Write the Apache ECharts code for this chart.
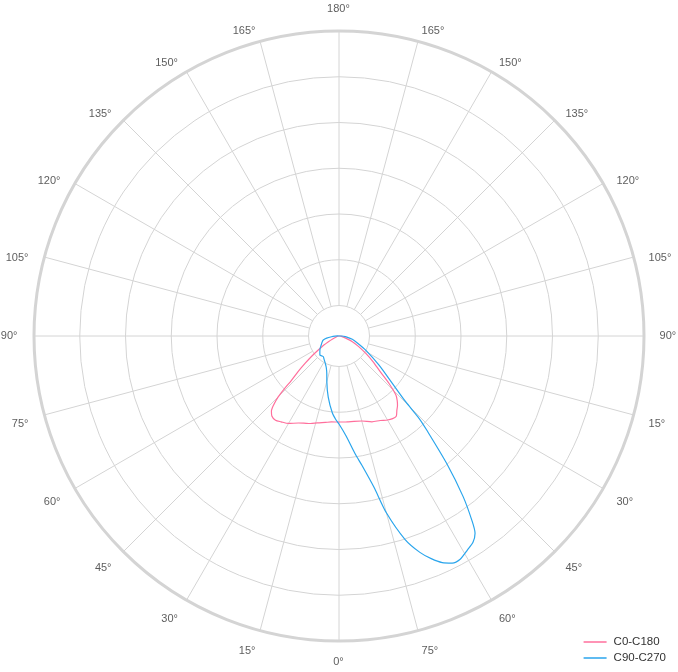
<!DOCTYPE html>
<html>
<head>
<meta charset="utf-8">
<title>Light distribution</title>
<script src="https://cdn.jsdelivr.net/npm/echarts@6/dist/echarts.min.js"></script>
<style>
html, body { margin: 0; padding: 0; background: #fff; }
#chart { width: 678px; height: 672px; }
</style>
</head>
<body>
<div id="chart"></div>
<script>
// tick labels round the dial, one per 15 deg of angle value (0..345)
var angleLabels = ['0°', '15°', '30°', '45°', '60°', '75°', '90°', '105°', '120°', '135°', '150°', '165°',
    '180°', '165°', '150°', '135°', '120°', '105°', '90°', '15°', '30°', '45°', '60°', '75°'];

// C0 half (left side)
var c0Gamma = [0, 5, 9, 14, 18, 22, 25, 30, 34, 37, 40, 42, 43.5, 45, 46, 47, 49, 51, 53.5, 56, 59, 62, 66, 70, 80, 90, 120, 180];
var c0Values = [86, 86.3, 87.5, 89.5, 92, 94, 96, 101, 103.5, 105.5, 104.5, 101, 95, 86, 76, 65, 54, 44, 34, 25, 18, 12, 6.5, 3.5, 1.5, 0.5, 0, 0];

// C180 half (right side)
var c180Gamma = [0, 5, 10, 15, 21, 26, 30, 33, 35.5, 38, 40, 42, 44, 46.5, 49.5, 53, 57, 62, 67, 72, 80, 90, 120, 180];
var c180Values = [86, 86.3, 86.6, 88, 91.9, 94, 97, 98.5, 98.6, 94, 91, 87, 81.8, 69, 53, 42.5, 32, 22, 14.5, 7, 2.5, 1, 0, 0];

// C90 half (left side)
var c90Gamma = [0, 2, 5, 10, 15, 18, 22, 26, 29, 33, 37, 41, 45, 50, 57, 63, 67, 72, 76, 80, 84, 88, 95, 120, 180];
var c90Values = [88, 84, 77, 62, 47, 39.5, 34, 31, 29.3, 27.5, 26, 26.3, 27, 25, 22.5, 20, 18.8, 17.5, 16.2, 12.5, 7.5, 4, 1.5, 0, 0];

// C270 half (right side)
var c270Gamma = [0, 4, 8, 10, 13, 15, 18, 20.5, 22.5, 24.5, 26.5, 28.5, 31, 33, 34.6, 35.8, 37.7, 40.2, 43, 44.2, 45.4, 48.4, 54, 62, 69, 76, 84, 90, 120, 180];
var c270Values = [88, 100, 120, 131, 155, 183, 214, 231, 241, 249, 253.7, 254, 249.5, 246, 239.6, 227, 203, 166.7, 128.6, 114.8, 93.6, 71.3, 49.5, 30.5, 20, 13.7, 6.5, 3, 0, 0];

var seriesNames = ['C0-C180', 'C90-C270'];
var seriesColors = ['#ff6f9c', '#2aa5ec'];

// left half runs gamma 180 -> 0 at angle = gamma, right half 0 -> 180 at angle = 360 - gamma
function plane(leftGamma, leftValues, rightGamma, rightValues) {
    var pts = [];
    for (var i = leftGamma.length - 1; i >= 0; i--) {
        pts.push([leftValues[i], leftGamma[i]]);
    }
    for (var j = 0; j < rightGamma.length; j++) {
        pts.push([rightValues[j], 360 - rightGamma[j]]);
    }
    return pts;
}

// dial labels sit just outside the ring, text hanging from its inner corner
var labelRing = 6.35;
var tickLabels = angleLabels.map(function(text, i) {
    var a = i * 15;
    var sx = -Math.sin(a * Math.PI / 180);
    var align = Math.abs(sx) < 0.01 ? 'center' : (sx < 0 ? 'right' : 'left');
    var vAlign = a === 180 ? 'bottom' : (a === 90 || a === 270 ? 'middle' : 'top');
    return { name: text, value: [labelRing, a], label: { align: align, verticalAlign: vAlign } };
});

var gridColor = '#d4d4d4';
var center = [339, 336];

var chart = echarts.init(document.getElementById('chart'));

chart.setOption({
    animation: false,
    legend: {
        orient: 'vertical',
        right: 7,
        bottom: 3,
        icon: 'rect',
        itemWidth: 23,
        itemHeight: 1.5,
        itemGap: 4,
        textStyle: { fontSize: 11.5, color: '#333', padding: [0, 0, 0, 2] },
        data: seriesNames
    },
    polar: [
        { center: center, radius: [30.5, 305] },
        { center: center, radius: [0, 305] }
    ],
    angleAxis: [
        {
            polarIndex: 0,
            type: 'value',
            min: 0,
            max: 360,
            interval: 15,
            startAngle: -90,
            clockwise: true,
            axisLine: { show: false },
            axisTick: { show: false },
            axisLabel: { show: false },
            splitLine: { show: true, lineStyle: { color: gridColor, width: 1 } }
        },
        {
            polarIndex: 1,
            type: 'value',
            min: 0,
            max: 360,
            interval: 15,
            startAngle: -90,
            clockwise: true,
            axisLine: { lineStyle: { color: gridColor, width: 3 } },
            axisTick: { show: false },
            axisLabel: { show: false },
            splitLine: { show: false }
        }
    ],
    radiusAxis: [
        {
            polarIndex: 0,
            type: 'value',
            min: 0,
            max: 6,
            interval: 1,
            axisLine: { show: false },
            axisTick: { show: false },
            axisLabel: { show: false },
            splitLine: { show: true, lineStyle: { color: gridColor, width: 1 } }
        },
        {
            polarIndex: 1,
            type: 'value',
            min: 0,
            max: 305,
            show: false
        }
    ],
    series: [
        {
            name: 'dial',
            type: 'scatter',
            coordinateSystem: 'polar',
            polarIndex: 0,
            silent: true,
            clip: false,
            symbolSize: 1,
            itemStyle: { color: 'rgba(0,0,0,0)' },
            label: {
                show: true,
                position: [0, 0],
                formatter: '{b}',
                fontSize: 11,
                color: '#333'
            },
            labelLayout: { hideOverlap: false },
            data: tickLabels
        },
        {
            name: seriesNames[0],
            type: 'line',
            coordinateSystem: 'polar',
            polarIndex: 1,
            symbol: 'none',
            smooth: 0.25,
            color: seriesColors[0],
            lineStyle: { width: 1.2 },
            data: plane(c0Gamma, c0Values, c180Gamma, c180Values)
        },
        {
            name: seriesNames[1],
            type: 'line',
            coordinateSystem: 'polar',
            polarIndex: 1,
            symbol: 'none',
            smooth: 0.25,
            color: seriesColors[1],
            lineStyle: { width: 1.2 },
            data: plane(c90Gamma, c90Values, c270Gamma, c270Values)
        }
    ]
});
</script>
</body>
</html>
